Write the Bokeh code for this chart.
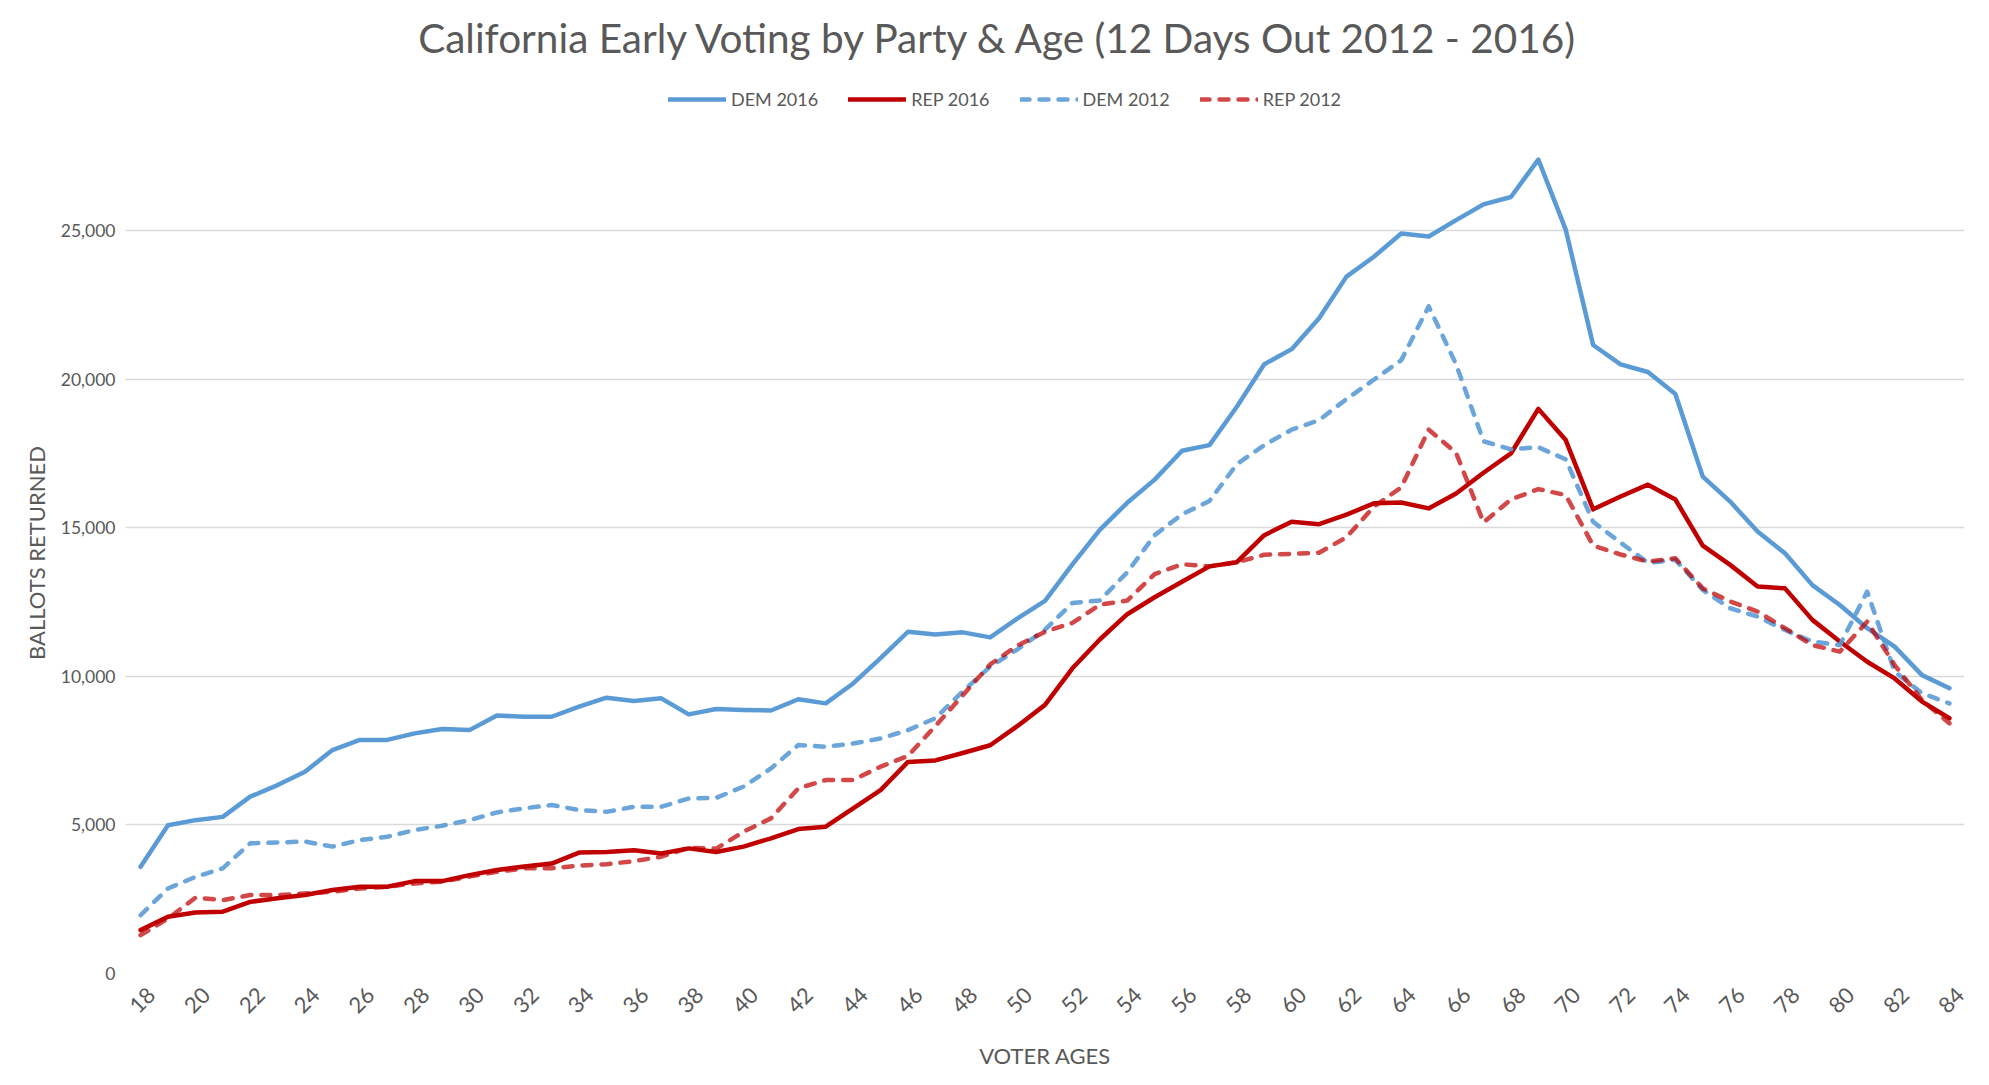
from bokeh.plotting import figure
from bokeh.layouts import column
from bokeh.models import Range1d, FixedTicker, Legend, LegendItem, NumeralTickFormatter, LinearAxis, Label
from bokeh.embed import file_html
from bokeh.resources import INLINE

# ---- data ----
ages = list(range(18, 85))

dem_2016 = [3590, 4990, 5160, 5270, 5950, 6340, 6790, 7520, 7860, 7860,
            8080, 8230, 8190, 8680, 8640, 8640, 8980, 9280, 9170, 9260,
            8720, 8900, 8870, 8850, 9230, 9090, 9760, 10610, 11500, 11410,
            11480, 11310, 11950, 12540, 13770, 14930, 15840, 16620, 17590, 17780,
            19070, 20500, 21010, 22050, 23450, 24120, 24900, 24800, 25350, 25880,
            26130, 27390, 25030, 21150, 20500, 20240, 19500, 16720, 15880, 14870,
            14140, 13070, 12400, 11620, 11000, 10040, 9600]

rep_2016 = [1460, 1910, 2050, 2080, 2410, 2530, 2640, 2810, 2920, 2920,
            3110, 3110, 3310, 3480, 3600, 3700, 4070, 4090, 4150, 4040,
            4210, 4090, 4270, 4550, 4860, 4940, 5560, 6170, 7120, 7170,
            7420, 7680, 8330, 9040, 10270, 11240, 12090, 12660, 13180, 13700,
            13840, 14750, 15200, 15120, 15440, 15820, 15850, 15650, 16150, 16850,
            17500, 19000, 17950, 15620, 16050, 16450, 15950, 14400, 13750, 13020,
            12960, 11900, 11170, 10490, 9930, 9150, 8590]

dem_2012 = [1960, 2860, 3250, 3540, 4380, 4410, 4440, 4270, 4490, 4600,
            4830, 4970, 5160, 5420, 5560, 5670, 5500, 5440, 5610, 5610,
            5890, 5910, 6290, 6900, 7690, 7630, 7740, 7910, 8190, 8590,
            9490, 10330, 10910, 11570, 12470, 12550, 13500, 14750, 15450, 15900,
            17140, 17780, 18300, 18620, 19330, 19980, 20640, 22450, 20500, 17910,
            17640, 17710, 17300, 15200, 14500, 13820, 13920, 12910, 12290, 12010,
            11560, 11170, 11050, 12850, 10160, 9430, 9090]

rep_2012 = [1290, 1850, 2550, 2470, 2640, 2640, 2690, 2750, 2860, 2920,
            3030, 3090, 3260, 3420, 3540, 3540, 3630, 3680, 3780, 3930,
            4230, 4200, 4770, 5220, 6230, 6510, 6510, 6960, 7320, 8330,
            9360, 10400, 11040, 11500, 11800, 12410, 12550, 13440, 13770, 13700,
            13840, 14090, 14120, 14160, 14680, 15710, 16360, 18300, 17520, 15180,
            15950, 16300, 16100, 14400, 14100, 13860, 13970, 12960, 12520, 12180,
            11620, 11050, 10830, 11840, 10380, 9200, 8420]

x_ticks = list(range(18, 85, 2))
y_ticks = [0, 5000, 10000, 15000, 20000, 25000]

title_text = "California Early Voting by Party & Age (12 Days Out 2012 - 2016)"
series_labels = ["DEM 2016", "REP 2016", "DEM 2012", "REP 2012"]

# ---- styling ----
FONT = "Lato"
GRAY = "#595959"
BLUE = "#5B9BD5"
RED = "#C00000"
W = 1973
HEADER_H = 132
MAIN_H = 943
X0, X1 = 17.45, 84.55
Y_TOP = 28300
LABEL_SHIFT = 0.4    # rotated tick labels sit slightly right of their ticks, as in the reference

styles = [dict(line_color=BLUE, line_width=4.5, line_join="round", line_cap="round"),
          dict(line_color=RED, line_width=4.5, line_join="round", line_cap="round"),
          dict(line_color=BLUE, line_alpha=0.9, line_width=4.5, line_join="round",
               line_cap="round", line_dash="9 10"),
          dict(line_color=RED, line_alpha=0.72, line_width=4.5, line_join="round",
               line_cap="round", line_dash="9 10")]

# ---------------- header: title + legend ----------------
header = figure(width=W, height=HEADER_H, output_backend="svg", toolbar_location=None,
                x_range=Range1d(0, W), y_range=Range1d(0, HEADER_H),
                min_border_left=0, min_border_right=0, min_border_top=0, min_border_bottom=0)
header.title = None
header.axis.visible = False
header.grid.visible = False
header.outline_line_color = None
header.background_fill_color = "white"
header.border_fill_color = "white"

# the header's frame is aligned with the main chart's frame (left edge 125 px in)
header.add_layout(Label(x=874, y=95, x_units="screen", y_units="screen", text=title_text,
                        text_font=FONT, text_font_size="40.5px", text_color=GRAY,
                        text_align="center", text_baseline="middle"))

# legend sample renderers: same styles as the series, their points lie outside the header's view
sample = [header.line(x=[-200, -100], y=[-50, -50], **st) for st in styles]
legend = Legend(items=[LegendItem(label=series_labels[i], renderers=[r]) for i, r in enumerate(sample)],
                orientation="horizontal", location=(543, 22),
                glyph_width=58, glyph_height=20, label_height=20, label_standoff=5,
                spacing=30, padding=0, margin=0,
                border_line_color=None, background_fill_alpha=0,
                label_text_font=FONT, label_text_font_size="18px", label_text_color=GRAY)
header.add_layout(legend)

# ---------------- main chart ----------------
p = figure(width=W, height=MAIN_H, output_backend="svg", toolbar_location=None,
           x_range=Range1d(X0, X1), y_range=Range1d(0, Y_TOP),
           min_border_left=125, min_border_right=9, min_border_top=0,
           min_border_bottom=102)
p.title = None
p.outline_line_color = None
p.background_fill_color = "white"
p.border_fill_color = "white"

p.xgrid.grid_line_color = None
p.ygrid.grid_line_color = "#D9D9D9"
p.ygrid.grid_line_width = 1.3

p.xaxis.visible = False
p.extra_x_ranges = {"labels": Range1d(X0 - LABEL_SHIFT, X1 - LABEL_SHIFT)}
xax = LinearAxis(x_range_name="labels", ticker=FixedTicker(ticks=x_ticks))
p.add_layout(xax, "below")

yax = p.yaxis[0]
yax.ticker = FixedTicker(ticks=y_ticks)
yax.formatter = NumeralTickFormatter(format="0,0")

for ax in (xax, yax):
    ax.axis_line_color = None
    ax.major_tick_line_color = None
    ax.minor_tick_line_color = None
    ax.major_tick_out = 0
    ax.major_tick_in = 0
    ax.minor_tick_out = 0
    ax.major_label_text_color = GRAY
    ax.major_label_text_font = FONT
    ax.axis_label_text_font = FONT
    ax.axis_label_text_color = GRAY
    ax.axis_label_text_font_style = "normal"
    ax.axis_label_text_font_size = "22px"

yax.major_label_text_font_size = "17.5px"
yax.major_label_standoff = 10
yax.axis_label = "BALLOTS RETURNED"
yax.axis_label_standoff = 8

xax.major_label_text_font_size = "22px"
xax.major_label_orientation = 0.7853981634
xax.major_label_standoff = 18
xax.axis_label = "VOTER AGES"
xax.axis_label_standoff = 19

for ys, st in zip([dem_2016, rep_2016, dem_2012, rep_2012], styles):
    p.line(ages, ys, **st)

open("out.html", "w").write(file_html(column(header, p), INLINE))
